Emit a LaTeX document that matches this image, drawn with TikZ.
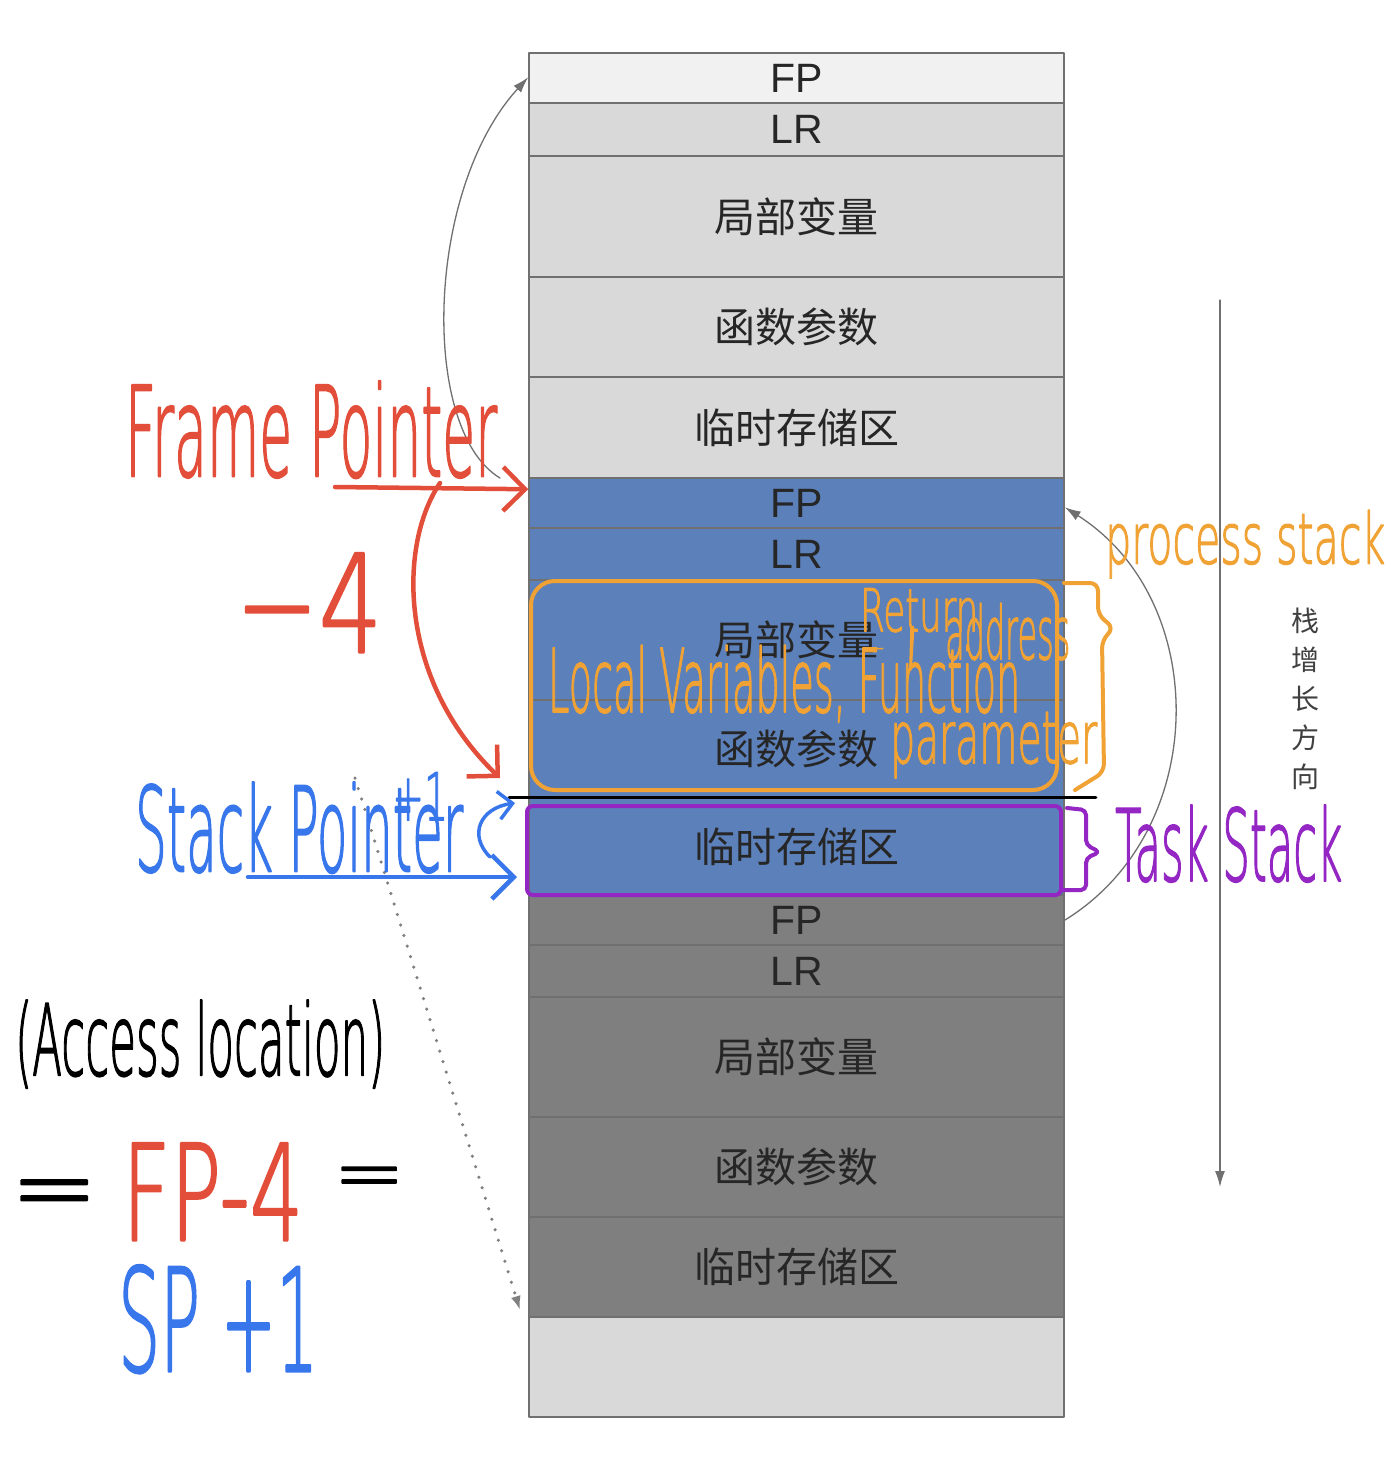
\documentclass[tikz,border=0pt]{standalone}
\usepackage{fontspec}
\usepackage{graphicx}
\setmainfont{Liberation Sans}
\newfontfamily\cjk{Noto Sans CJK SC}
\newfontfamily\handfont{DejaVu Sans ExtraLight}[FakeBold=2]
\usetikzlibrary{arrows.meta}
\definecolor{topgray}{RGB}{241,241,241}
\definecolor{cellgray}{RGB}{217,217,217}
\definecolor{cellblue}{RGB}{92,128,186}
\definecolor{celldark}{RGB}{127,127,127}
\definecolor{edgegray}{RGB}{112,112,112}
\definecolor{redpen}{RGB}{226,78,58}
\definecolor{bluepen}{RGB}{56,118,235}
\definecolor{orangepen}{RGB}{240,162,52}
\definecolor{purplepen}{RGB}{148,38,196}
\newcommand{\handtxt}[3]{\resizebox*{#1pt}{#2pt}{#3}}
\tikzset{
  stackcell/.style={draw=edgegray,line width=1.5pt,minimum width=535pt,inner sep=0pt,text=black!85,font=\fontsize{41}{48}\selectfont},
  handnode/.style={anchor=north west,inner sep=0pt,font=\handfont\fontsize{40}{48}\selectfont},
  grayarrow/.style={draw=edgegray,line width=1.3pt,-{Latex[length=16pt,width=10pt]}},
  penarrow/.style={line width=4.5pt,line cap=round,line join=round,-{Straight Barb[length=22pt,width=44pt]}},
}
\begin{document}
\begin{tikzpicture}[x=1pt,y=-1pt,line cap=round,line join=round]
\fill[white] (0,0) rectangle (1396,1463);
% stack frames
\foreach \t/\b/\n/\lab/\c in {53/103/fp1/FP/topgray,103/156/lr1/LR/cellgray,156/277/lv1/{\cjk 局部变量}/cellgray,
  277/377/pa1/{\cjk 函数参数}/cellgray,377/478/tm1/{\cjk 临时存储区}/cellgray,
  478/528/fp2/FP/cellblue,528/580/lr2/LR/cellblue,580/700/lv2/{\cjk 局部变量}/cellblue,
  700/798/pa2/{\cjk 函数参数}/cellblue,798/895/tm2/{\cjk 临时存储区}/cellblue,
  895/945/fp3/FP/celldark,945/997/lr3/LR/celldark,997/1117/lv3/{\cjk 局部变量}/celldark,
  1117/1217/pa3/{\cjk 函数参数}/celldark,1217/1317/tm3/{\cjk 临时存储区}/celldark,1317/1417/em/{}/cellgray}
  \node[stackcell,fill=\c,minimum height={(\b-\t)*1pt}] (\n) at (796.5,{(\t+\b)/2}) {\lab};

\coordinate (growtop) at (1220,300);
\coordinate (growbot) at (1220,1187);
\draw[grayarrow] (growtop) -- (growbot);
\node[font=\cjk\fontsize{28}{39}\selectfont,align=center,text=black!75,inner sep=0pt] (growlabel) at (1305,699) {栈\\增\\长\\方\\向};

\coordinate (backleft) at (500,478);
\draw[grayarrow] (backleft) .. controls (420,430) and (425,190) .. ([yshift=-25pt]fp1.north west);
\coordinate (backright) at (1065,920);
\draw[grayarrow] (backright) .. controls (1211,830) and (1211,600) .. ([yshift=-30pt]fp2.north east);
\coordinate (dotstart) at (355,778);
\coordinate (dotend) at (520,1310);
\draw[draw=black!50,line width=3.5pt,dash pattern=on 0pt off 11pt,-{Latex[length=14pt,width=10pt]}] (dotstart) -- (dotend);

% process / task stack marks
\draw[orangepen,line width=4pt,rounded corners=24pt] (531,581) rectangle (1057,790);
\draw[orangepen,line width=4pt,rounded corners=8pt] (1064,583) -- (1098,583) -- (1098,615) -- (1114,628) -- (1102,640) -- (1104,772) -- (1075,790);
\draw[black,line width=3.5pt] ([xshift=-19pt]tm2.north west) -- ([xshift=31pt]tm2.north east);
\draw[purplepen,line width=4pt,rounded corners=6pt] (527,806) rectangle (1061,895);
\draw[purplepen,line width=4pt,rounded corners=5pt] (1067,808) -- (1086,810) -- (1086,845) -- (1100,852) -- (1086,858) -- (1086,890) -- (1062,890);

% pointers
\coordinate (fpstart) at (335,487);
\draw[penarrow,redpen] (fpstart) -- ([yshift=-12pt]fp2.north west);
\coordinate (minusstart) at (440,483);
\coordinate (minusend) at (500,778);
\draw[penarrow,redpen] (minusstart) .. controls (398,545) and (398,680) .. (minusend);
\coordinate (spstart) at (248,877);
\coordinate (spend) at (517,877);
\draw[penarrow,bluepen] (spstart) -- (spend);
\coordinate (hookstart) at (490,857);
\coordinate (hookend) at (515,803);
\draw[bluepen,line width=3.5pt,-{Straight Barb[length=14pt,width=28pt]}] (hookstart) .. controls (468,835) and (480,808) .. (hookend);

% handwriting
\node[handnode,text=redpen] (fplabel) at (125,381) {\handtxt{372}{97}{Frame Pointer}};
\node[handnode,text=redpen] (minuslabel) at (235,553) {\handtxt{147}{99}{−4}};
\node[handnode,text=bluepen] (splabel) at (135,782) {\handtxt{328}{91}{Stack Pointer}};
\node[handnode,text=bluepen] (plusone) at (392,772) {\handtxt{56}{48}{+1}};
\node[handnode,text=black] (accesslabel) at (15,1000) {\handtxt{370}{88}{(Access location)}};
\node[handnode,text=black] (eqleft) at (10,1180) {\handtxt{88}{42}{=}};
\node[handnode,text=redpen] (fpminus) at (122,1143) {\handtxt{181}{97}{FP-4}};
\node[handnode,text=black] (eqright) at (333,1167) {\handtxt{72}{33}{=}};
\node[handnode,text=bluepen] (spplus) at (118,1265) {\handtxt{200}{108}{SP +1}};
\node[handnode,text=orangepen] (proclabel) at (1105,510) {\handtxt{280}{68}{process stack}};
\node[handnode,text=purplepen] (tasklabel) at (1115,805) {\handtxt{227}{77}{Task Stack}};
\node[handnode,text=orangepen] (retlabel) at (860,588) {\handtxt{118}{44}{Return}};
\node[handnode,text=orangepen] (dashlabel) at (860,648) {\handtxt{26}{7}{-}};
\node[handnode,text=orangepen] (commalabel) at (903,628) {\handtxt{18}{40}{,}};
\node[handnode,text=orangepen] (addrlabel) at (945,603) {\handtxt{125}{57}{address}};
\node[handnode,text=orangepen] (localvar) at (548,645) {\handtxt{472}{77}{Local Variables, Function}};
\node[handnode,text=orangepen] (paramlabel) at (890,712) {\handtxt{207}{66}{parameter}};
\end{tikzpicture}
\end{document}
